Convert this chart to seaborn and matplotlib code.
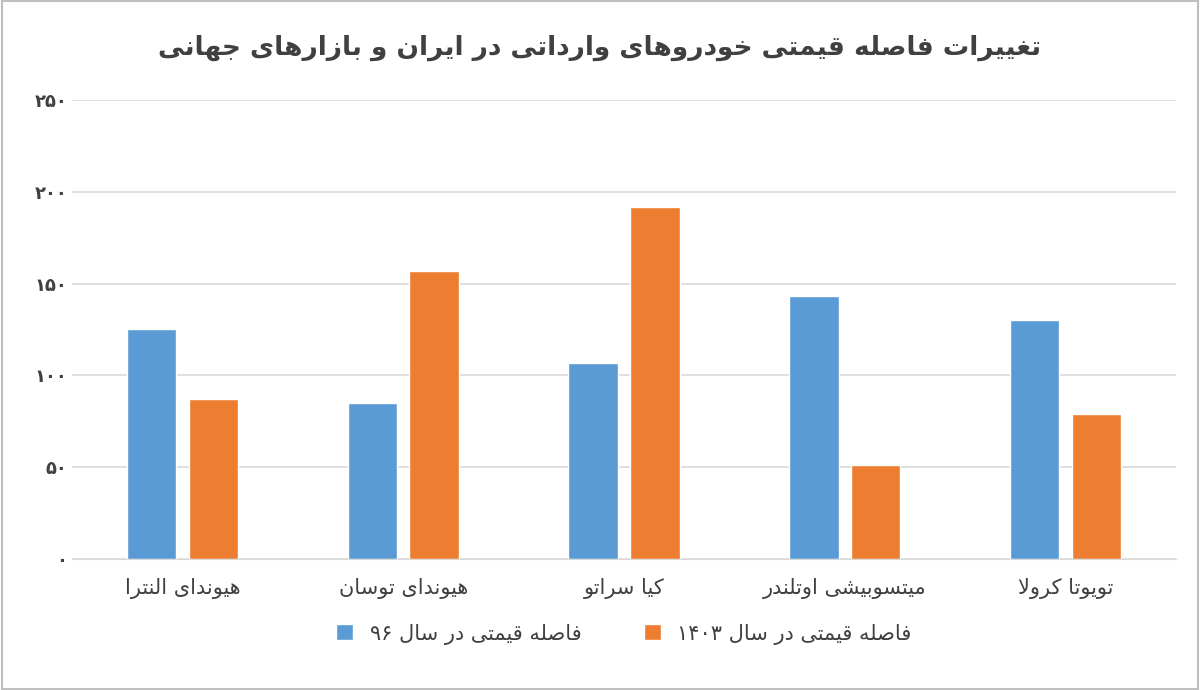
import numpy as np
import pandas as pd
import matplotlib
matplotlib.use("Agg")
import matplotlib.pyplot as plt
import seaborn as sns

# --- minimal Persian shaping (no arabic_reshaper available) ---
FORMS = {
    'ا': (0xFE8D, 0xFE8E, None, None), 'د': (0xFEA9, 0xFEAA, None, None),
    'ذ': (0xFEAB, 0xFEAC, None, None), 'ر': (0xFEAD, 0xFEAE, None, None),
    'ز': (0xFEAF, 0xFEB0, None, None), 'و': (0xFEED, 0xFEEE, None, None),
    'ژ': (0xFB8A, 0xFB8B, None, None),
}
for ch, base in [('ب', 0xFE8F), ('ت', 0xFE95), ('ث', 0xFE99), ('ج', 0xFE9D), ('ح', 0xFEA1),
                 ('خ', 0xFEA5), ('س', 0xFEB1), ('ش', 0xFEB5), ('ص', 0xFEB9), ('ض', 0xFEBD),
                 ('ط', 0xFEC1), ('ظ', 0xFEC5), ('ع', 0xFEC9), ('غ', 0xFECD), ('ف', 0xFED1),
                 ('ق', 0xFED5), ('ل', 0xFEDD), ('م', 0xFEE1), ('ن', 0xFEE5), ('ه', 0xFEE9),
                 ('پ', 0xFB56), ('چ', 0xFB7A), ('ک', 0xFB8E), ('گ', 0xFB92), ('ی', 0xFBFC)]:
    FORMS[ch] = (base, base + 1, base + 2, base + 3)


def dual(c):
    return c in FORMS and FORMS[c][2] is not None


def shape(text):
    out = []
    i = 0
    while i < len(text):
        c = text[i]
        prev = text[i - 1] if i > 0 else ''
        jp = dual(prev)
        if c == 'ل' and i + 1 < len(text) and text[i + 1] == 'ا':
            out.append(chr(0xFEFC if jp else 0xFEFB))
            i += 2
            continue
        if c not in FORMS:
            out.append(c)
            i += 1
            continue
        nxt = text[i + 1] if i + 1 < len(text) else ''
        jn = dual(c) and nxt in FORMS
        iso, fin, ini, med = FORMS[c]
        if jp and jn:
            code = med
        elif jp:
            code = fin
        elif jn:
            code = ini
        else:
            code = iso
        out.append(chr(code))
        i += 1
    s = ''.join(out)[::-1]
    # keep digit runs left-to-right
    res, run = [], ''
    for ch in s:
        if ch.isdigit():
            run += ch
        else:
            res.append(run[::-1]); run = ''
            res.append(ch)
    res.append(run[::-1])
    return ''.join(res)


title = "تغییرات فاصله قیمتی خودروهای وارداتی در ایران و بازارهای جهانی"
cars = ["هیوندای النترا", "هیوندای توسان", "کیا سراتو", "میتسوبیشی اوتلندر", "تویوتا کرولا"]
series_names = ["فاصله قیمتی در سال ۹۶", "فاصله قیمتی در سال ۱۴۰۳"]
gap_96 = [125, 85, 107, 143, 130]
gap_1403 = [87, 157, 192, 51, 79]
yticks = [0, 50, 100, 150, 200, 250]
ytick_labels = ["۰", "۵۰", "۱۰۰", "۱۵۰", "۲۰۰", "۲۵۰"]
colors = ["#5B9BD5", "#ED7D31"]

df = pd.DataFrame({
    "car": [shape(c) for c in cars] * 2,
    "series": [shape(series_names[0])] * 5 + [shape(series_names[1])] * 5,
    "value": gap_96 + gap_1403,
})

sns.set_style("white")
plt.rcParams['font.family'] = ['DejaVu Sans', 'Noto Sans']

fig, ax = plt.subplots(figsize=(12, 6.9), dpi=100)
sns.barplot(data=df, x="car", y="value", hue="series", palette=colors,
            width=0.56, gap=0.2, ax=ax, saturation=1)
ax.set_ylim(0, 250)
ax.set_yticks(yticks)
ax.set_yticklabels(ytick_labels, fontsize=13, color="#404040", fontweight="bold")
ax.yaxis.grid(True, color="#d9d9d9", linewidth=1.2)
ax.set_axisbelow(True)
for s in ["top", "right", "left"]:
    ax.spines[s].set_visible(False)
ax.spines["bottom"].set_color("#d9d9d9")
ax.tick_params(axis="both", length=0)
ax.tick_params(axis="x", labelsize=15, labelcolor="#404040", pad=14)
ax.set_xlabel("")
ax.set_ylabel("")
ax.legend(loc="upper center", bbox_to_anchor=(0.5, -0.1), ncol=2, frameon=False,
          fontsize=15, handlelength=0.8, handleheight=0.8, columnspacing=3,
          labelcolor="#404040")
fig.suptitle(shape(title), fontsize=19, fontweight="bold", color="#404040", y=0.95)
fig.subplots_adjust(left=0.06, right=0.98, top=0.855, bottom=0.19)
fig.patches.append(plt.Rectangle((0.002, 0.002), 0.996, 0.996, transform=fig.transFigure,
                                 fill=False, edgecolor="#bfbfbf", linewidth=1.5))
fig.savefig("out.png")
